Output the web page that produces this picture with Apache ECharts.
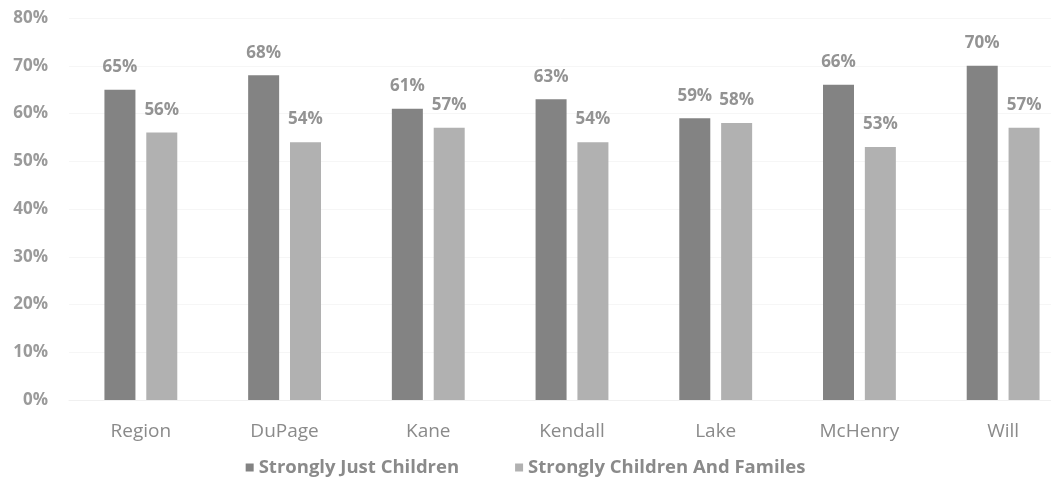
<!DOCTYPE html>
<html><head><meta charset="utf-8">
<script src="https://cdn.jsdelivr.net/npm/echarts@6/dist/echarts.min.js"></script>
<style>html,body{margin:0;padding:0;background:#fff}#c{width:1051px;height:487px}</style>
</head><body><div id="c"></div>
<script>
const categories = ["Region","DuPage","Kane","Kendall","Lake","McHenry","Will"];
const justChildren = [65,68,61,63,59,66,70];
const childrenFamilies = [56,54,57,54,58,53,57];
const seriesNames = ["Strongly Just Children","Strongly Children And Familes"];
const chart = echarts.init(document.getElementById('c'));
const font = "'Open Sans', sans-serif";
const lbl = {show:true, position:'top', distance:14, formatter:'{c}%', color:'#939393', fontSize:17, fontWeight:'bold', fontFamily:font};
chart.setOption({
  animation:false,
  grid:{left:69, top:18, right:-24, bottom:87, outerBoundsMode:'none', containLabel:false},
  legend:{bottom:5, left:'center', itemWidth:8, itemHeight:8, itemGap:56, icon:'rect',
    textStyle:{color:'#8a8a8a', fontSize:18.5, fontWeight:'bold', fontFamily:font}, data:seriesNames},
  xAxis:{type:'category', data:categories,
    axisLine:{lineStyle:{color:'#f0f0f0'}}, axisTick:{show:false},
    axisLabel:{color:'#8a8a8a', fontSize:19, fontFamily:font, margin:22}},
  yAxis:{type:'value', min:0, max:80, interval:10,
    axisLabel:{formatter:'{value}%', color:'#9a9a9a', fontSize:17, fontWeight:'bold', fontFamily:font, margin:21},
    splitLine:{lineStyle:{color:'#f6f6f6'}}},
  series:[
    {name:seriesNames[0], type:'bar', data:justChildren, barWidth:31, barGap:'35%', itemStyle:{color:'#838383'}, label:lbl},
    {name:seriesNames[1], type:'bar', data:childrenFamilies, barWidth:31, itemStyle:{color:'#b1b1b1'}, label:lbl}
  ]
});
</script></body></html>
